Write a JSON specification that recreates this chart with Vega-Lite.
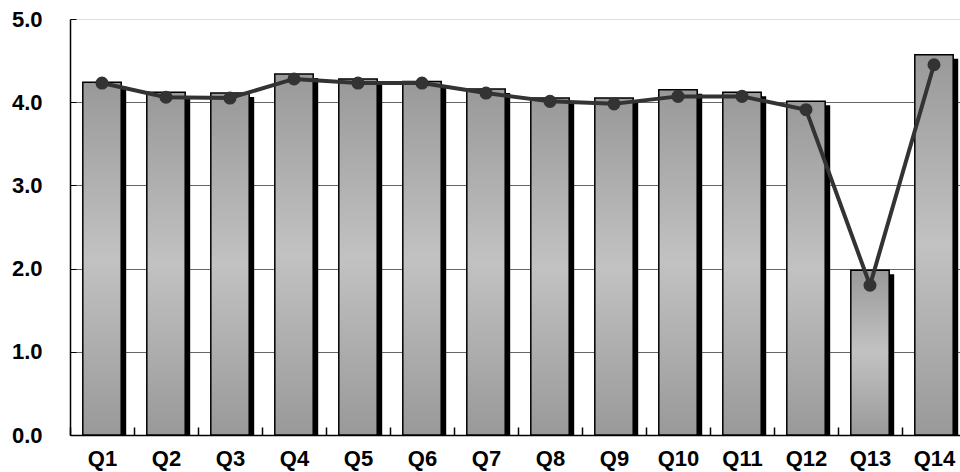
{
  "$schema": "https://vega.github.io/schema/vega-lite/v6.json",
  "autosize": {"type": "none"},
  "padding": {"left": 70, "top": 19, "right": 0, "bottom": 37},
  "width": 890,
  "height": 416,
  "background": "white",
  "config": {
    "view": {"stroke": null},
    "axis": {"labelFont": "Liberation Sans", "labelFontWeight": "bold", "labelFontSize": 22, "labelColor": "black"}
  },
  "data": {
    "values": [
      {"q": "Q1", "bar": 4.24, "line": 4.23},
      {"q": "Q2", "bar": 4.12, "line": 4.06},
      {"q": "Q3", "bar": 4.11, "line": 4.05},
      {"q": "Q4", "bar": 4.34, "line": 4.28},
      {"q": "Q5", "bar": 4.28, "line": 4.23},
      {"q": "Q6", "bar": 4.25, "line": 4.23},
      {"q": "Q7", "bar": 4.16, "line": 4.11},
      {"q": "Q8", "bar": 4.05, "line": 4.01},
      {"q": "Q9", "bar": 4.05, "line": 3.98},
      {"q": "Q10", "bar": 4.15, "line": 4.07},
      {"q": "Q11", "bar": 4.12, "line": 4.07},
      {"q": "Q12", "bar": 4.01, "line": 3.91},
      {"q": "Q13", "bar": 1.98, "line": 1.8},
      {"q": "Q14", "bar": 4.57, "line": 4.45}
    ]
  },
  "encoding": {
    "x": {
      "field": "q", "type": "nominal", "sort": null, "title": null,
      "scale": {"range": [0, 896], "paddingInner": 0.4, "paddingOuter": 0.2},
      "axis": {"labelAngle": 0, "domainColor": "black", "domainWidth": 1.5, "tickColor": "black", "tickWidth": 1.5, "tickSize": -8, "tickOffset": -32, "labelOffset": 32, "labelPadding": 21, "grid": false}
    }
  },
  "layer": [
    {
      "mark": {"type": "bar", "color": "black", "xOffset": 5, "yOffset": 4, "clip": true},
      "encoding": {
        "y": {
          "field": "bar", "type": "quantitative", "title": null,
          "scale": {"domain": [0, 5], "nice": false},
          "axis": {"values": [0, 1, 2, 3, 4, 5], "format": ".1f", "domainColor": "black", "domainWidth": 1.5, "tickColor": "black", "tickSize": -6, "labelPadding": 34,
            "gridColor": {"condition": {"test": "datum.value === 5", "value": "#dddddd"}, "value": "#666666"}, "grid": true}
        }
      }
    },
    {
      "mark": {"type": "bar", "stroke": "black", "strokeWidth": 1.5,
        "color": {"gradient": "linear", "x1": 0, "y1": 0, "x2": 0, "y2": 1,
          "stops": [{"offset": 0, "color": "#999999"}, {"offset": 0.5, "color": "#c2c2c2"}, {"offset": 1, "color": "#999999"}]}},
      "encoding": {"y": {"field": "bar", "type": "quantitative"}}
    },
    {
      "mark": {"type": "line", "color": "#333333", "strokeWidth": 4},
      "encoding": {"y": {"field": "line", "type": "quantitative"}}
    },
    {
      "mark": {"type": "point", "filled": true, "color": "#333333", "opacity": 1, "size": 170},
      "encoding": {"y": {"field": "line", "type": "quantitative"}}
    }
  ]
}
